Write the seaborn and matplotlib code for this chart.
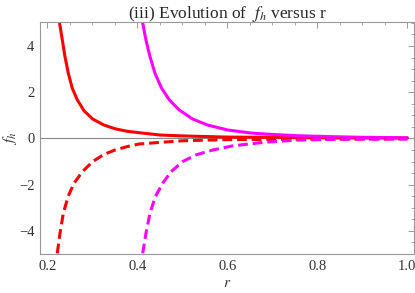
import seaborn as sns
import matplotlib.pyplot as plt
import pandas as pd
import numpy as np

# values
r_red_pos = [0.2275, 0.2334, 0.2393, 0.2467, 0.2556, 0.2667, 0.2816, 0.3009, 0.326, 0.3504,
             0.3778, 0.4038, 0.45, 0.50, 0.60, 0.686, 0.80, 0.90, 1.0]
f_red_pos = [4.97, 4.26, 3.54, 2.82, 2.17, 1.67, 1.20, 0.84, 0.58, 0.42,
             0.31, 0.25, 0.15, 0.11, 0.06, 0.05, 0.03, 0.02, 0.02]

r_mag_pos = [0.412, 0.4193, 0.4282, 0.4393, 0.4542, 0.4711, 0.4933, 0.5231, 0.5564, 0.60,
             0.6504, 0.686, 0.754, 0.828, 0.902, 1.0]
f_mag_pos = [5.0, 4.26, 3.54, 2.82, 2.17, 1.67, 1.23, 0.84, 0.58, 0.37,
             0.24, 0.19, 0.12, 0.08, 0.05, 0.03]

r_red_neg = [0.2222, 0.2282, 0.2356, 0.246, 0.2593, 0.2778, 0.3009, 0.326, 0.3504, 0.3778,
             0.4038, 0.45, 0.50, 0.60, 0.70, 0.80, 0.90, 1.0]
f_red_neg = [-4.97, -4.10, -3.24, -2.52, -1.94, -1.44, -1.00, -0.69, -0.50, -0.35,
             -0.24, -0.17, -0.10, -0.05, -0.04, -0.03, -0.02, -0.02]

r_mag_neg = [0.412, 0.4193, 0.4282, 0.44, 0.4564, 0.4749, 0.5009, 0.5304, 0.5675, 0.612,
             0.6564, 0.686, 0.754, 0.828, 0.902, 1.0]
f_mag_neg = [-4.97, -4.10, -3.24, -2.52, -1.94, -1.44, -1.00, -0.71, -0.50, -0.32,
             -0.22, -0.16, -0.07, -0.04, -0.03, -0.02]

sns.set_style("white")
plt.rcParams['font.family'] = ['Liberation Serif', 'DejaVu Serif']
plt.rcParams['mathtext.fontset'] = 'stix'

fig, ax = plt.subplots(figsize=(4.15, 2.93), dpi=100)

curves = [
    (r_red_pos, f_red_pos, "red", "-"),
    (r_mag_pos, f_mag_pos, "magenta", "-"),
    (r_red_neg, f_red_neg, "red", (0, (3.2, 1.6))),
    (r_mag_neg, f_mag_neg, "magenta", (0, (3.2, 1.6))),
]
for rr, ff, col, ls in curves:
    df = pd.DataFrame({"r": rr, "f": ff})
    sns.lineplot(data=df, x="r", y="f", color=col, linestyle=ls, linewidth=2.2, ax=ax)

ax.axhline(0, color="#888888", linewidth=0.8, zorder=0)
ax.set_xlim(0.1838, 1.015)
ax.set_ylim(-5, 5.04)
ax.set_xticks([0.2, 0.4, 0.6, 0.8, 1.0])
ax.set_xticklabels(["0.2", "0.4", "0.6", "0.8", "1.0"])
ax.set_yticks([-4, -2, 0, 2, 4])
ax.set_yticklabels(["\u22124", "\u22122", "0", "2", "4"])
ax.set_xticks(np.arange(0.2, 1.01, 0.05), minor=True)
ax.set_yticks(np.arange(-5, 5.01, 0.5), minor=True)
ax.tick_params(which="both", direction="in", top=True, right=True, color="#999999",
               labelsize=10.5, labelcolor="#333333")
ax.tick_params(which="major", length=4, width=0.7, pad=4)
ax.tick_params(which="minor", length=2, width=0.6)
for s in ax.spines.values():
    s.set_color("#999999")
    s.set_linewidth(0.8)

ax.set_xlabel("$r$", fontsize=11, color="#333333", labelpad=3)
ax.set_ylabel("$f_h$", fontsize=11, color="#333333", labelpad=0)
ax.set_title("(iii) Evolution of  $f_h$ versus r", fontsize=12.5, pad=3)

fig.subplots_adjust(left=0.0964, right=0.9976, top=0.925, bottom=0.133)
fig.savefig("out.png", dpi=100)
